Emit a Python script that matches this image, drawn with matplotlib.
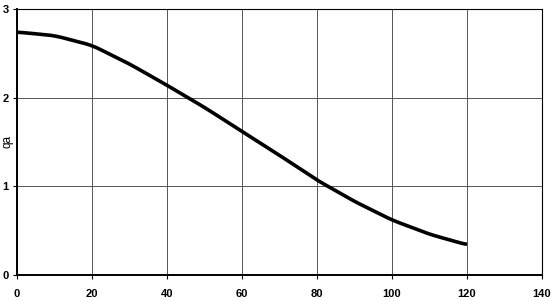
import matplotlib
matplotlib.use("Agg")
import matplotlib.pyplot as plt
import numpy as np

# values
x = [0, 10, 20, 30, 40, 50, 60, 70, 80, 90, 100, 110, 120]
qa = [2.74, 2.70, 2.59, 2.38, 2.14, 1.89, 1.62, 1.35, 1.07, 0.83, 0.62, 0.46, 0.34]
xticks = [0, 20, 40, 60, 80, 100, 120, 140]
yticks = [0, 1, 2, 3]

plt.rcParams['font.family'] = ['Liberation Sans', 'DejaVu Sans']

fig = plt.figure(figsize=(5.53, 3.01), dpi=100)
left, right, bottom, top = 17, 542, 275, 9
ax = fig.add_axes([left / 553, 1 - bottom / 301, (right - left) / 553, (bottom - top) / 301])

# smooth the read points a bit for drawing
xs = np.linspace(0, 120, 241)
ys = np.interp(xs, x, qa)
k = np.ones(9) / 9
ys_s = np.convolve(np.pad(ys, 4, mode='edge'), k, mode='valid')
ax.plot(xs, ys_s, color='black', lw=2.6, solid_capstyle='butt')

ax.set_xlim(0, 140)
ax.set_ylim(0, 3)
ax.set_xticks(xticks)
ax.set_yticks(yticks)
ax.grid(True, color='#555555', lw=0.7)
ax.set_axisbelow(True)
for s in ax.spines.values():
    s.set_linewidth(0.8)
ax.spines['left'].set_linewidth(1.4)
ax.spines['bottom'].set_linewidth(1.4)
ax.tick_params(axis='x', length=3, width=0.8, labelsize=8, pad=7)
ax.tick_params(axis='y', length=3, width=0.8, labelsize=8, pad=3)
for t in ax.get_xticklabels() + ax.get_yticklabels():
    t.set_fontweight('bold')
ax.set_ylabel('qa', fontsize=8.5)
ax.yaxis.set_label_coords(-0.006, 0.50)

fig.savefig('out.png', dpi=100)
